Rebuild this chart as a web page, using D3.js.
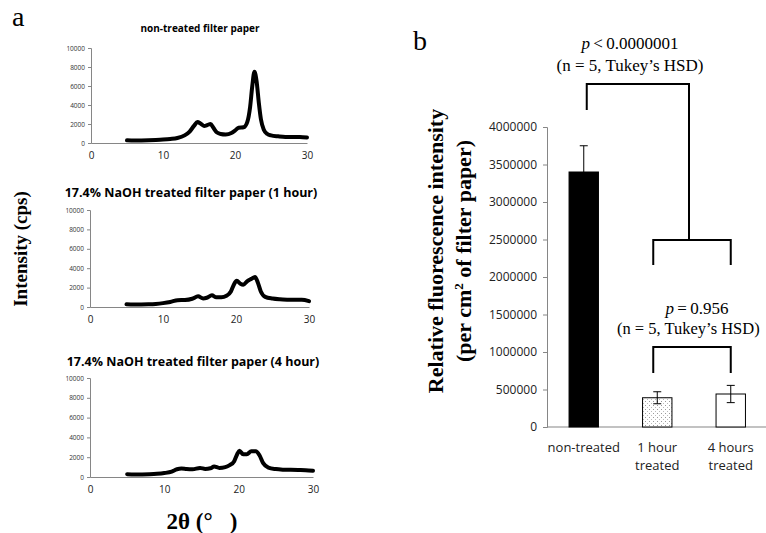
<!DOCTYPE html>
<html><head><meta charset="utf-8">
<script src="https://cdn.jsdelivr.net/npm/d3@7"></script>
<style>body{margin:0;background:#fff;}svg{display:block;}</style>
</head><body>
<svg id="c" width="766" height="533"></svg>
<script>
// ---- Panel a data (2θ, intensity cps) ----
const xrdTitles = ["non-treated filter paper", "17.4% NaOH treated filter paper (1 hour)", "17.4% NaOH treated filter paper (4 hour)"];
const xrdNonTreated = [[5,280],[6,260],[7,270],[8,290],[9,320],[10,360],[11,420],[12,520],[13,800],[13.7,1200],[14.3,1800],[14.8,2200],[15.2,2050],[15.7,1800],[16.2,1900],[16.6,2000],[17,1600],[17.5,1100],[18,950],[18.7,900],[19.5,1050],[20,1300],[20.5,1600],[21.2,1650],[21.7,2200],[22.1,3800],[22.4,6000],[22.7,7500],[23,6500],[23.3,4300],[23.6,2500],[24,1400],[24.5,950],[25,800],[26,700],[27,640],[28,640],[29,620],[30,580]];
const xrd1Hour = [[5,280],[6,250],[7,260],[8,280],[9,320],[10,400],[11,520],[12,700],[13,720],[14,850],[14.8,1100],[15.5,880],[16,950],[16.7,1200],[17.3,1000],[18,1000],[18.7,1150],[19.3,1600],[19.7,2300],[20.1,2700],[20.6,2400],[21,2300],[21.6,2700],[22.1,2900],[22.6,3100],[23,2500],[23.4,1600],[24,1050],[25,880],[26,800],[27,760],[28,740],[29,740],[30,600]];
const xrd4Hour = [[5,280],[6,250],[7,260],[8,280],[9,320],[10,400],[11,550],[11.7,780],[12.3,850],[13,800],[13.8,780],[14.8,920],[15.5,820],[16.2,880],[16.7,1050],[17.4,920],[18.2,1000],[18.8,1200],[19.4,1600],[19.8,2300],[20.1,2650],[20.6,2300],[21.1,2300],[21.7,2600],[22.3,2600],[22.8,2200],[23.3,1400],[24,950],[25,800],[26,740],[27,720],[28,700],[29,680],[30,620]];
const xrdSeries = [xrdNonTreated, xrd1Hour, xrd4Hour];
const xrdYTicks = [0,2000,4000,6000,8000,10000];
const xrdXTicks = [0,10,20,30];

// ---- Panel b data ----
const categories = [["non-treated"],["1 hour","treated"],["4 hours","treated"]];
const barValues = [3400000, 390000, 440000];
const barErrors = [350000, 80000, 115000];
const bYTicks = [0,500000,1000000,1500000,2000000,2500000,3000000,3500000,4000000];

const svg = d3.select("#c");
const grey = "#868686";
const serif = "Liberation Serif, Times New Roman, serif";

// ---------- Panel a ----------
svg.append("text").attr("x",12).attr("y",26).attr("font-family",serif)
  .attr("font-size",28).text("a");

const boxes = [
  {x0:91,x1:307,y0:48,y1:143,ty:29,tfs:10,tcx:200},
  {x0:90,x1:309,y0:210,y1:307,ty:194,tfs:12.5,tcx:191},
  {x0:90,x1:313,y0:378,y1:477,ty:363,tfs:12.5,tcx:193}
];
boxes.forEach((b,i)=>{
  const x = d3.scaleLinear().domain([0,30]).range([b.x0,b.x1]);
  const y = d3.scaleLinear().domain([0,10000]).range([b.y1,b.y0]);
  const g = svg.append("g");
  g.append("text").attr("x",b.tcx).attr("y",b.ty).attr("text-anchor","middle")
    .attr("font-family","Open Sans, Lato, sans-serif").attr("font-weight","bold")
    .attr("font-size",b.tfs).attr("dominant-baseline","middle").text(xrdTitles[i]);
  const ya = g.append("g").attr("transform",`translate(${b.x0},0)`)
    .call(d3.axisLeft(y).tickValues(xrdYTicks).tickSize(3).tickPadding(3).tickFormat(d3.format("d")));
  ya.selectAll("text").attr("font-family","Open Sans, sans-serif").attr("font-size",6.5).attr("fill","#333");
  ya.selectAll("line,path").attr("stroke",grey);
  const xa = g.append("g").attr("transform",`translate(0,${b.y1})`)
    .call(d3.axisBottom(x).tickValues(xrdXTicks).tickSize(0).tickPadding(9));
  xa.selectAll("text").attr("font-family","Open Sans, sans-serif").attr("font-size",10).attr("fill","#222");
  xa.selectAll("path,line").attr("stroke",grey);
  const line = d3.line().x(d=>x(d[0])).y(d=>y(d[1])).curve(d3.curveMonotoneX);
  g.append("path").datum(xrdSeries[i]).attr("d",line).attr("fill","none")
    .attr("stroke","#000").attr("stroke-width",4).attr("stroke-linejoin","round").attr("stroke-linecap","round");
});

svg.append("text").attr("transform","translate(23,249) rotate(-90)").attr("text-anchor","middle")
  .attr("font-family",serif).attr("font-weight","bold").attr("font-size",19)
  .attr("dominant-baseline","middle").text("Intensity (cps)");
svg.append("text").attr("x",202).attr("y",529).attr("text-anchor","middle")
  .attr("font-family",serif).attr("font-weight","bold").attr("font-size",23)
  .text("2θ (°\u00a0\u00a0\u00a0)");

// ---------- Panel b ----------
svg.append("text").attr("x",413).attr("y",50).attr("font-family",serif)
  .attr("font-size",28).text("b");

const defs = svg.append("defs");
const pat = defs.append("pattern").attr("id","dots").attr("patternUnits","userSpaceOnUse").attr("width",4).attr("height",4);
pat.append("rect").attr("width",4).attr("height",4).attr("fill","#fff");
pat.append("rect").attr("x",1).attr("y",1).attr("width",1).attr("height",1).attr("fill","#999");
pat.append("rect").attr("x",3).attr("y",3).attr("width",1).attr("height",1).attr("fill","#bbb");

const bx = d3.scaleBand().domain(d3.range(categories.length)).range([547,767.5]).paddingInner(0.6).paddingOuter(0.3);
const by = d3.scaleLinear().domain([0,4000000]).range([427,127]);

const bya = svg.append("g").attr("transform","translate(547,0)")
  .call(d3.axisLeft(by).tickValues(bYTicks).tickSize(4).tickPadding(6).tickFormat(d3.format("d")));
bya.selectAll("text").attr("font-family","Open Sans, sans-serif").attr("font-size",12).attr("fill","#222");
bya.selectAll("line,path").attr("stroke",grey);
svg.append("line").attr("x1",547).attr("x2",767).attr("y1",427).attr("y2",427).attr("stroke",grey).attr("stroke-width",1.2);

const fills = ["#000","url(#dots)","#fff"];
barValues.forEach((v,i)=>{
  svg.append("rect").attr("x",bx(i)).attr("width",bx.bandwidth()).attr("y",by(v)).attr("height",427-by(v))
    .attr("fill",fills[i]).attr("stroke","#000").attr("stroke-width",1);
  const cx = bx(i)+bx.bandwidth()/2;
  const lo = i===0 ? v : v-barErrors[i];
  svg.append("line").attr("x1",cx).attr("x2",cx).attr("y1",by(v+barErrors[i])).attr("y2",by(lo)).attr("stroke","#000");
  svg.append("line").attr("x1",cx-4).attr("x2",cx+4).attr("y1",by(v+barErrors[i])).attr("y2",by(v+barErrors[i])).attr("stroke","#000");
  if(i>0) svg.append("line").attr("x1",cx-4).attr("x2",cx+4).attr("y1",by(lo)).attr("y2",by(lo)).attr("stroke","#000");
  categories[i].forEach((t,k)=>{
    svg.append("text").attr("x",cx).attr("y",452+k*18).attr("text-anchor","middle")
      .attr("font-family","Open Sans, sans-serif").attr("font-size",13).attr("fill","#222").text(t);
  });
});

// brackets
const cxs = d3.range(3).map(i=>bx(i)+bx.bandwidth()/2);
const br = svg.append("g").attr("fill","none").attr("stroke","#000").attr("stroke-width",2);
br.append("path").attr("d",`M${cxs[1]-4},265V240H${cxs[2]}V265`);
br.append("path").attr("d",`M${cxs[0]+3},110V84H${(cxs[1]+cxs[2])/2-5}V240`);
br.append("path").attr("d",`M${cxs[1]-4},373V347H${cxs[2]}V373`);

function pText(x,y,rest){
  const t = svg.append("text").attr("x",x).attr("y",y).attr("text-anchor","middle")
    .attr("font-family",serif).attr("font-size",17);
  t.append("tspan").attr("font-style","italic").text("p");
  t.append("tspan").text(rest);
}
pText(630,49,"\u2009<\u20090.0000001");
svg.append("text").attr("x",630).attr("y",71).attr("text-anchor","middle").attr("font-family",serif).attr("font-size",17)
  .text("(n = 5, Tukey\u2019s HSD)");
pText(697,314,"\u2009=\u20090.956");
svg.append("text").attr("x",617).attr("y",334).attr("font-family",serif).attr("font-size",16.5)
  .text("(n = 5, Tukey\u2019s HSD)");

const yt = svg.append("text").attr("transform","translate(0,251) rotate(-90)").attr("text-anchor","middle")
  .attr("font-family",serif).attr("font-weight","bold").attr("font-size",22);
yt.append("tspan").attr("x",0).attr("y",443).text("Relative fluorescence intensity");
yt.append("tspan").attr("x",0).attr("y",471).text("(per cm");
yt.append("tspan").attr("dy",-8).attr("font-size",13).text("2");
yt.append("tspan").attr("dy",8).text(" of filter paper)");
</script>
</body></html>
